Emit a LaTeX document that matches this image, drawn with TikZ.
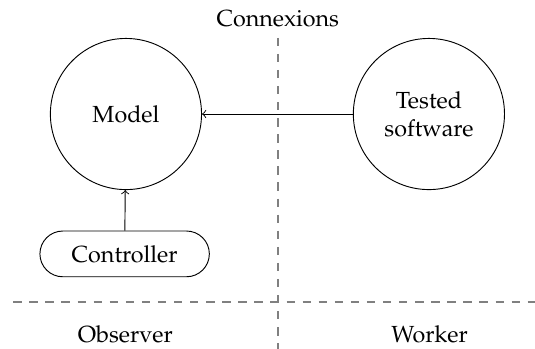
\documentclass[tikz,border=0pt]{standalone}
\usepackage[T1]{fontenc}
\usepackage{mathpazo}
\usetikzlibrary{shapes.misc}

\begin{document}
	\begin{tikzpicture}
		[component/.style={draw,circle,minimum size=2.28cm,align=center},
		control/.style={draw,rounded rectangle,minimum width=2.79cm,minimum height=0.69cm},
		border/.style={dash pattern=on 3.6pt off 3.3pt,gray,thick}]
		\useasboundingbox (0,0) rectangle (8.07,5.26);
		% separations
		\coordinate (top) at (4.19,4.69);
		\coordinate (bottom) at (4.19,0);
		\coordinate (left) at (0.20,0.70);
		\coordinate (right) at (8.07,0.70);
		\draw[border] (top) -- (bottom);
		\draw[border] (left) -- (right);
		% zones
		\node[anchor=base] (connexions) at (4.19,4.86) {Connexions};
		\node[anchor=base] (observer) at (1.89,0.09) {Observer};
		\node[anchor=base] (worker) at (6.48,0.09) {Worker};
		% components
		\node[component] (model) at (1.90,3.54) {Model};
		\node[component] (tested) at (6.47,3.54) {Tested\\software};
		\node[control] (controller) at (1.88,1.43) {Controller};
		\draw[->] (tested) -- (model);
		\draw[->] (controller) -- (model);
	\end{tikzpicture}
\end{document}
